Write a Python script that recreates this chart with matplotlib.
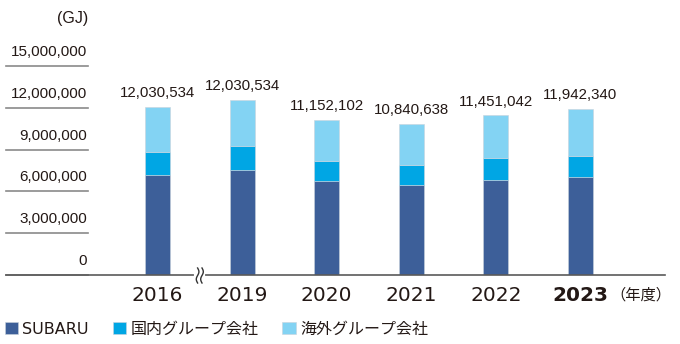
import matplotlib
matplotlib.use("Agg")
import matplotlib.pyplot as plt
import matplotlib.transforms as mtransforms
import numpy as np

# values (GJ)
years = ["2016", "2019", "2020", "2021", "2022", "2023"]
subaru = [7150000, 7540000, 6750000, 6460000, 6820000, 7030000]
domestic = [1680000, 1720000, 1430000, 1430000, 1580000, 1510000]
overseas = [3200000, 3300000, 2970000, 2950000, 3050000, 3400000]
total_labels = ["12,030,534", "12,030,534", "11,152,102", "10,840,638", "11,451,042", "11,942,340"]
yticks = [0, 3000000, 6000000, 9000000, 12000000, 15000000]
series_names = ["SUBARU", "国内グループ会社", "海外グループ会社"]
colors = ["#3d5f99", "#00a6e4", "#83d3f3"]

TXT = "#231815"
NARROW = ["Liberation Sans", "DejaVu Sans"]
JP = ["DejaVu Sans", "Noto Sans CJK JP"]

fig = plt.figure(figsize=(6.8, 3.44), dpi=100)
ax = fig.add_axes([6 / 680, (344 - 275) / 344, 659 / 680, (275 - 66) / 344])

x = np.arange(len(years))
w = 0.296
bottoms = np.zeros(len(years))
handles = []
for vals, c, name in zip([subaru, domestic, overseas], colors, series_names):
    b = ax.bar(x, vals, w, bottom=bottoms, color=c, label=name,
               edgecolor="#c9d3dc", linewidth=0.4)
    handles.append(b)
    bottoms = bottoms + np.array(vals)

for xi, top, lab in zip(x, bottoms, total_labels):
    ax.annotate(lab, (xi, top), xytext=(0, 5), textcoords="offset points",
                ha="center", va="bottom", fontsize=10.8, family=NARROW,
                color=TXT, annotation_clip=False)

ax.set_xlim((6 - 157.5) / 84.6, (665 - 157.5) / 84.6)
ax.set_ylim(0, 15000000)

# short grid segments under the y labels
for yv in yticks:
    ax.axhline(yv, xmin=0, xmax=(88 - 6) / 659, color="#8a8a8a", lw=1.2,
               clip_on=False)
    ax.annotate(f"{yv:,}", (0.123, yv), xycoords=("axes fraction", "data"),
                xytext=(0, 5), textcoords="offset points", ha="right",
                va="bottom", fontsize=11, family=NARROW, color=TXT,
                annotation_clip=False)

for s in ["top", "right", "left"]:
    ax.spines[s].set_visible(False)
ax.spines["bottom"].set_color("#5a5a5a")
ax.spines["bottom"].set_linewidth(1.2)
ax.set_yticks([])
ax.set_xticks(x)
ax.set_xticklabels(years, fontsize=14.5, color=TXT)
ax.tick_params(axis="x", length=0, pad=8)
ax.get_xticklabels()[-1].set_fontweight("bold")

# axis break mark between 2016 and 2019
trans = fig.dpi_scale_trans + mtransforms.ScaledTranslation(0.5, 0, ax.transData)
t = np.linspace(-0.08, 0.07, 50)
ax.plot([-0.035, 0.035], [0, 0], color="white", lw=3, transform=trans,
        clip_on=False, zorder=5)
for dx in (-0.022, 0.022):
    ax.plot(dx + 0.013 * np.sin((t + 0.005) / 0.075 * np.pi), t,
            color="#333333", lw=1.0, transform=trans, clip_on=False, zorder=6)

fig.text(88 / 680, 1 - 18 / 344, "(GJ)", ha="right", va="center",
         fontsize=11.5, family=NARROW, color=TXT)
fig.text(671 / 680, 1 - 295 / 344, "（年度）", ha="right", va="center",
         fontsize=11, family="Noto Sans CJK JP", color=TXT)

leg = fig.legend(handles=handles, loc="center left",
                 bbox_to_anchor=(0.0, 1 - 329 / 344), ncol=3, frameon=False,
                 prop={"family": JP, "size": 11.5}, handlelength=0.85,
                 handleheight=0.85, handletextpad=0.25, columnspacing=1.5,
                 borderaxespad=0, borderpad=0.3)
for txt in leg.get_texts():
    txt.set_color(TXT)

fig.savefig("out.png", dpi=100)
